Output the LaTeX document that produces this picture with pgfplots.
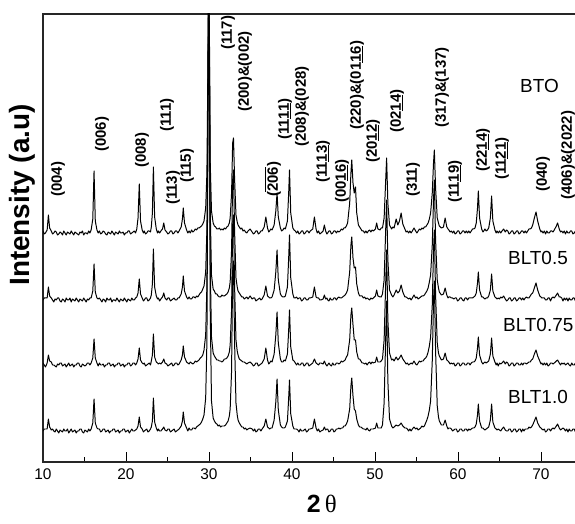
\documentclass[border=0pt]{standalone}
\usepackage{fontspec}
\setmainfont{Liberation Sans}
\newfontfamily\serif{Liberation Serif}
\usepackage{pgfplots}
\usepackage{pgfplotstable}
\pgfplotsset{compat=1.18}

% underline / overline for the negative Miller indices
\newsavebox\ulbox
\newcommand\ul[1]{\sbox\ulbox{#1}\rlap{\rule[-2.6pt]{\wd\ulbox}{1.1pt}}\usebox\ulbox}
\newcommand\ol[1]{\sbox\ulbox{#1}\rlap{\rule[12pt]{\wd\ulbox}{1.1pt}}\usebox\ulbox}

% 2theta, then heights above each pattern's own baseline
% a = BTO, b = BLT0.5, c = BLT0.75, d = BLT1.0
\pgfplotstableread{
x a b c d
10.0 2 0 2 0
10.15 -1 2 0 2
10.3 0 2 -2 2
10.5 3 2 2 2
10.65 18 13 10 12
10.8 5 4 4 4
11.0 2 2 3 1
11.15 -1 0 0 2
11.3 0 -2 0 0
11.45 2 1 -1 -1
11.6 1 0 -2 2
11.75 -2 2 1 0
11.9 -1 2 0 -2
12.05 1 -1 2 1
12.2 0 -2 2 0
12.35 -2 1 -1 -1
12.5 2 0 0 2
12.65 0 -2 1 0
12.8 -2 2 -2 0
12.95 1 0 0 2
13.1 0 0 2 -2
13.25 -1 2 -1 0
13.4 2 -2 0 2
13.55 0 1 1 -1
13.7 -2 0 -2 0
13.85 1 -1 0 1
14.0 0 2 0 -2
14.15 -1 0 2 0
14.3 -2 -2 2 0
14.45 1 1 -1 2
14.6 0 0 -2 2
14.75 2 -1 1 -1
14.9 -2 2 0 -2
15.05 0 0 -1 1
15.2 0 -2 0 0
15.35 -1 1 2 -1
15.5 2 0 2 2
15.65 0 2 0 0
15.8 3 2 2 2
16.0 14 9 7 8
16.15 62 36 26 32
16.3 12 8 7 8
16.5 3 2 2 3
16.65 0 1 -1 2
16.8 2 2 2 2
16.95 -1 0 0 -1
17.1 0 -2 0 0
17.25 2 1 1 2
17.4 1 0 -2 2
17.55 -1 -2 0 -1
17.7 -2 2 0 0
17.85 1 0 2 1
18.0 0 0 2 -2
18.15 -1 2 -1 0
18.3 2 -2 0 0
18.45 0 0 1 2
18.6 -2 0 -2 2
18.75 1 -1 0 -1
18.9 0 2 0 0
19.05 -1 0 2 1
19.2 2 -2 2 -2
19.35 0 1 -1 0
19.5 0 0 0 0
19.65 1 -1 1 2
19.8 -2 2 -2 2
19.95 0 0 0 -1
20.1 0 -2 0 0
20.25 2 1 2 1
20.4 2 0 2 -2
20.55 -1 -1 -1 0
20.7 0 2 0 2
20.85 1 0 2 0
21.0 2 0 2 0
21.15 0 2 0 1
21.3 4 3 2 2
21.45 15 7 6 5
21.6 49 21 17 14
21.75 12 6 5 4
21.95 3 2 2 2
22.1 0 -1 1 -1
22.2 2 0 2 0
22.35 -1 2 -1 1
22.5 0 2 0 2
22.65 2 -1 1 -1
22.8 2 0 2 0
22.95 1 2 0 2
23.05 6 5 4 4
23.18 20 16 10 10
23.3 66 51 31 33
23.45 16 13 8 9
23.65 4 4 3 3
23.8 0 1 2 0
23.9 2 2 1 2
24.05 0 -1 2 0
24.2 2 1 1 0
24.4 4 3 3 2
24.55 10 7 6 4
24.7 3 2 2 1
24.9 1 0 1 0
25.05 -1 2 -1 2
25.2 0 2 0 2
25.35 2 -1 1 -1
25.5 2 0 2 0
25.65 -1 1 -1 1
25.8 0 2 0 2
25.95 2 0 2 -1
26.1 2 0 2 0
26.25 0 2 0 1
26.4 2 2 1 2
26.65 6 6 5 5
26.8 14 13 10 10
26.9 25 24 19 19
27.05 10 9 8 8
27.3 3 3 3 3
27.45 0 1 2 0
27.6 2 3 1 3
27.75 0 1 3 1
27.9 3 1 2 1
28.05 1 3 1 3
28.2 2 3 2 3
28.35 4 2 4 2
28.5 3 4 3 4
28.65 5 3 4 5
28.8 5 5 5 6
28.95 6 7 7 7
29.1 7 8 8 9
29.25 9 11 10 12
29.4 12 14 15 16
29.6 25 28 30 33
29.75 60 70 80 90
29.85 150 180 220 260
29.95 260 320 390 460
30.05 200 250 300 360
30.15 70 90 100 120
30.3 22 25 28 30
30.5 10 11 12 13
30.65 7 9 9 10
30.8 6 6 7 8
30.95 4 6 5 7
31.1 4 4 5 5
31.25 5 3 4 6
31.4 3 3 4 4
31.55 4 5 3 5
31.7 3 4 4 5
31.85 5 4 6 5
32.0 4 5 6 6
32.15 6 6 7 8
32.3 7 8 9 10
32.45 10 12 13 15
32.55 15 18 20 22
32.72 40 50 55 60
32.85 90 120 140 160
32.95 95 130 150 170
33.08 55 70 80 90
33.25 18 22 25 28
33.4 11 13 14 16
33.5 8 9 10 11
33.65 6 7 6 8
33.8 4 5 5 6
33.95 5 3 4 4
34.1 2 3 3 4
34.25 3 1 3 2
34.4 1 2 2 3
34.55 0 3 1 1
34.7 2 1 2 2
34.95 4 4 3 3
35.2 1 1 1 2
35.35 -1 2 -1 0
35.5 0 2 0 2
35.65 2 -1 2 -1
35.8 2 0 2 0
35.95 -1 1 -1 2
36.1 0 2 0 2
36.25 2 0 1 0
36.4 2 1 2 2
36.65 6 5 6 5
36.85 16 14 17 12
37.05 5 4 5 4
37.2 1 3 1 3
37.3 2 2 2 2
37.45 4 2 4 3
37.6 3 3 3 3
37.85 8 10 11 11
38.05 22 28 30 29
38.2 40 50 53 52
38.35 16 20 22 21
38.6 5 6 6 6
38.75 2 4 3 4
38.9 3 3 3 3
39.05 5 3 5 3
39.2 4 4 4 4
39.45 12 13 11 10
39.6 40 42 35 33
39.7 63 65 55 51
39.85 20 22 18 17
40.1 5 6 5 5
40.25 3 2 4 2
40.4 2 2 2 2
40.55 0 3 0 2
40.7 2 1 2 1
40.85 -1 2 0 -1
41.0 0 2 0 2
41.15 2 -1 2 0
41.3 2 0 2 0
41.45 -1 2 -1 1
41.6 0 2 0 2
41.75 2 0 2 -1
41.9 2 0 2 0
42.05 0 2 -1 2
42.2 2 2 0 2
42.5 4 3 2 3
42.7 16 13 6 12
42.9 4 3 2 3
43.05 0 2 1 0
43.2 2 2 0 2
43.35 -1 0 2 -1
43.5 0 0 2 0
43.75 2 1 1 1
43.9 8 5 4 4
44.05 2 1 1 1
44.2 -1 2 -1 2
44.3 0 0 0 2
44.45 2 -1 2 -1
44.6 2 2 0 0
44.75 -1 0 -1 2
44.9 0 0 2 2
45.05 2 2 0 -1
45.2 2 2 0 0
45.35 0 0 2 2
45.5 2 2 2 2
45.65 1 3 1 3
45.8 2 2 2 2
45.95 4 2 4 3
46.1 3 3 3 3
46.25 5 4 4 5
46.4 5 5 5 5
46.55 7 7 8 7
46.7 10 10 10 10
46.95 30 28 25 22
47.1 60 55 50 45
47.2 73 63 57 53
47.35 50 42 40 35
47.5 40 32 25 22
47.65 46 33 25 20
47.8 20 16 13 12
48.0 8 7 6 6
48.15 6 4 6 4
48.3 4 4 4 4
48.45 2 4 2 3
48.6 2 2 2 2
48.75 0 3 1 2
48.9 2 1 2 1
49.05 0 2 0 3
49.2 2 1 2 1
49.35 3 0 3 0
49.5 1 2 1 2
49.65 3 1 3 2
49.8 2 2 2 2
50.05 4 4 3 3
50.2 10 10 8 8
50.35 4 4 3 3
50.6 3 3 3 3
50.75 5 3 4 3
50.9 5 6 6 6
51.1 15 20 25 28
51.25 45 60 70 80
51.4 75 100 115 130
51.55 30 40 45 50
51.75 8 10 12 12
52.0 4 5 5 5
52.15 6 3 6 3
52.3 5 5 4 4
52.55 14 10 8 6
52.75 8 7 5 5
52.95 12 9 7 6
53.15 20 15 10 8
53.35 9 8 6 5
53.6 4 3 3 3
53.75 1 3 1 3
53.9 2 2 2 2
54.05 0 1 0 0
54.2 2 2 1 2
54.35 0 0 2 0
54.5 2 2 1 2
54.7 5 5 4 4
54.9 2 2 1 2
55.05 0 3 0 3
55.2 2 1 2 1
55.35 4 2 4 2
55.5 3 3 3 3
55.65 5 4 4 5
55.8 4 4 4 4
55.95 6 5 6 5
56.1 6 7 7 8
56.25 8 9 9 11
56.4 10 12 13 15
56.55 14 18 19 21
56.7 20 25 28 30
56.9 40 55 60 70
57.05 70 100 115 130
57.15 83 120 135 150
57.3 45 60 70 80
57.5 15 20 22 25
57.65 10 12 12 14
57.75 7 8 9 10
58.0 5 5 5 6
58.25 6 6 6 6
58.45 15 12 12 11
58.65 6 5 5 5
58.8 4 2 4 2
58.9 3 3 3 3
59.05 1 3 1 3
59.2 2 2 2 2
59.35 0 2 1 0
59.5 2 1 2 1
59.65 -1 2 -1 2
59.8 0 2 0 2
59.95 2 -1 2 -1
60.1 2 0 2 0
60.25 -1 2 -1 2
60.4 0 2 0 2
60.55 2 0 2 0
60.7 2 -1 2 0
60.85 0 2 0 2
61.0 2 2 0 2
61.15 0 0 2 0
61.3 2 2 2 2
61.45 0 2 0 1
61.6 2 2 2 2
61.75 4 2 3 3
61.9 4 3 3 3
62.05 5 4 4 4
62.2 10 7 7 7
62.35 25 17 17 16
62.45 42 28 28 27
62.6 15 10 10 10
62.85 4 3 3 3
63.0 1 3 1 3
63.1 2 2 2 2
63.25 4 1 3 1
63.4 2 2 2 2
63.55 3 2 3 3
63.7 5 4 4 4
63.9 15 10 11 11
64.05 37 26 27 27
64.2 12 9 9 9
64.45 3 3 3 3
64.6 0 2 0 2
64.7 2 1 2 1
64.85 0 2 -1 2
65.0 2 1 2 1
65.15 0 3 1 0
65.3 2 2 2 2
65.5 4 4 4 4
65.7 1 1 1 1
65.85 3 -1 3 0
66.0 2 0 2 0
66.15 -1 2 -1 2
66.3 0 2 0 2
66.45 2 -1 2 -1
66.6 2 0 2 0
66.75 -1 2 -1 2
66.9 0 2 0 2
67.05 2 -1 2 -1
67.2 2 0 2 0
67.35 -1 2 0 2
67.5 0 2 0 2
67.65 2 0 2 -1
67.8 2 2 0 2
67.95 0 0 2 0
68.1 2 2 2 2
68.25 0 3 1 2
68.4 2 2 2 2
68.55 4 2 3 4
68.7 4 4 3 3
68.85 5 6 5 4
69.0 8 7 6 6
69.2 15 12 11 10
69.4 21 17 15 14
69.6 12 10 9 8
69.85 4 4 4 4
70.0 1 3 1 3
70.1 2 2 2 2
70.25 0 2 0 1
70.4 2 2 2 2
70.55 -1 0 0 -1
70.7 2 0 2 0
70.85 0 2 -1 2
71.0 0 2 0 2
71.15 2 -1 2 0
71.3 2 2 2 2
71.45 1 3 1 3
71.6 3 2 2 2
71.85 7 5 4 5
72.0 10 7 5 7
72.2 4 3 2 3
72.35 1 3 0 1
72.5 2 2 2 2
72.65 0 -1 1 3
72.8 2 2 2 2
72.95 -1 0 0 0
73.1 2 2 1 2
73.25 0 -1 2 -1
73.4 0 2 0 2
73.55 2 0 -1 0
73.7 2 0 2 0
73.85 -1 2 0 2
74.0 0 2 0 2
74.15 2 -1 2 -1
74.3 2 0 2 0
74.45 -1 2 -1 2
74.6 0 2 0 2
74.8 2 0 2 0
75.0 2 0 2 0
}\xrd

\begin{document}
\begin{tikzpicture}
\useasboundingbox (-43bp,-62bp) rectangle (532bp,462bp);
\begin{axis}[
  at={(0,0)}, anchor=south west,
  scale only axis, width=539.5bp, height=448bp,
  xmin=10, xmax=75, ymin=0, ymax=448,
  xtick={10,20,...,70}, minor x tick num=1,
  ytick=\empty,
  xtick pos=left, tick align=inside,
  major tick length=10bp, minor tick length=5bp,
  every tick/.style={black, line width=0.9pt},
  axis line style={line width=1.1pt, black!85},
  /pgf/number format/assume math mode=true,
  xticklabel style={font=\fontsize{15.5}{15.5}\selectfont, yshift=-3bp},
  xlabel={\textbf{2}\,{\serif θ}},
  xlabel style={font=\fontsize{25}{25}\selectfont, at={(rel axis cs:0.517,0)}, anchor=north, yshift=-30bp},
  ylabel={\textbf{Intensity (a.u)}},
  ylabel style={font=\fontsize{28}{28}\selectfont, at={([xshift=-21bp]rel axis cs:0,0.596)}, anchor=center},
  clip=true,
]
\addplot[black, line width=1pt, line join=round] table[x=x, y expr=\thisrow{a}+229] {\xrd};
\addplot[black, line width=1pt, line join=round] table[x=x, y expr=\thisrow{b}+162] {\xrd};
\addplot[black, line width=1pt, line join=round] table[x=x, y expr=\thisrow{c}+97] {\xrd};
\addplot[black, line width=1pt, line join=round] table[x=x, y expr=\thisrow{d}+31] {\xrd};

\begin{scope}[every node/.style={rotate=90, anchor=west, inner sep=0pt, font=\fontsize{15}{15}\selectfont\bfseries}]
\node at (axis cs:11.81,265) {(004)};
\node at (axis cs:17.11,310) {(006)};
\node at (axis cs:21.93,294) {(008)};
\node at (axis cs:24.94,330) {(111)};
\node at (axis cs:25.66,257) {(113)};
\node at (axis cs:27.35,279) {(115)};
\node at (axis cs:32.29,412) {(117)};
\node at (axis cs:34.34,350) {(200)\&(002)};
\node at (axis cs:37.71,265) {(\ol{206})};
\node at (axis cs:39.16,322) {(11\ul{11})};
\node at (axis cs:41.20,315) {(208)\&(028)};
\node at (axis cs:43.73,279) {(11\ul{13})};
\node at (axis cs:46.02,259) {(00\ul{16})};
\node at (axis cs:47.83,332) {(220)\&(01\ul{16})};
\node at (axis cs:49.76,299) {(20\ul{12})};
\node at (axis cs:52.65,329) {(02\ul{14})};
\node at (axis cs:54.58,265) {(311)};
\node at (axis cs:58.07,334) {(317)\&(137)};
\node at (axis cs:59.64,259) {(11\ul{19})};
\node at (axis cs:63.01,290) {(22\ul{14})};
\node at (axis cs:65.30,282) {(11\ul{21})};
\node at (axis cs:70.24,270) {(040)};
\node at (axis cs:73.25,262) {(406)\&(2022)};
\end{scope}

\begin{scope}[every node/.style={anchor=base west, inner sep=0pt, font=\fontsize{19}{19}\selectfont}]
\node at (axis cs:67.47,369) {BTO};
\node at (axis cs:66.02,197) {BLT0.5};
\node at (axis cs:65.42,130) {BLT0.75};
\node at (axis cs:66.02,58) {BLT1.0};
\end{scope}
\end{axis}
\end{tikzpicture}
\end{document}
